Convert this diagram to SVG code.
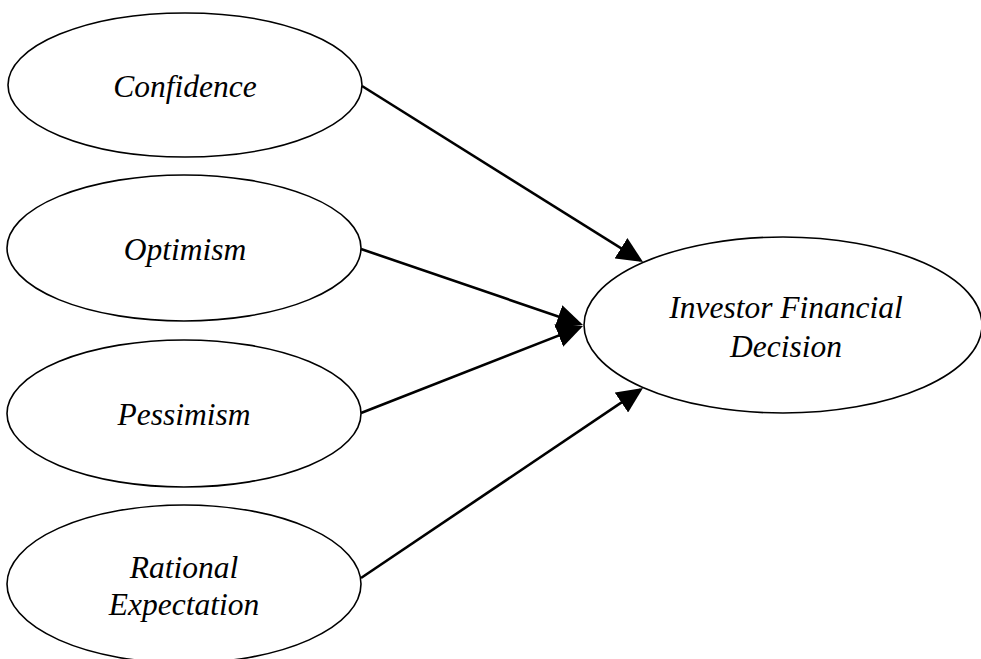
<svg xmlns="http://www.w3.org/2000/svg" width="981" height="659" viewBox="0 0 981 659">
<style>
.node ellipse{fill:#fff;stroke:#000;stroke-width:1.6}
.node text{font-family:"Liberation Serif","Times New Roman",serif;font-style:italic;font-size:31.5px;fill:#000;text-anchor:middle}
.conn line{stroke:#000;stroke-width:2.6;fill:none}
</style>
<defs>
<marker id="ah" markerUnits="userSpaceOnUse" viewBox="0 0 26 24" markerWidth="26" markerHeight="24" refX="23" refY="12" orient="auto">
<path d="M0,0 L26,12 L0,24 Z" fill="#000"/>
</marker>
</defs>
<rect width="981" height="659" fill="#fff"/>
<g id="n-confidence" class="node">
<ellipse cx="185" cy="85" rx="177" ry="72"/>
<text x="185" y="97">Confidence</text>
</g>
<g id="n-optimism" class="node">
<ellipse cx="184" cy="248" rx="177" ry="73"/>
<text x="185" y="260">Optimism</text>
</g>
<g id="n-pessimism" class="node">
<ellipse cx="184" cy="413.5" rx="177" ry="73.5"/>
<text x="184" y="425">Pessimism</text>
</g>
<g id="n-rational" class="node">
<ellipse cx="184" cy="584" rx="177" ry="79"/>
<text x="184" y="578">Rational</text>
<text x="184" y="615">Expectation</text>
</g>
<g id="n-decision" class="node">
<ellipse cx="783" cy="325" rx="199" ry="88"/>
<text x="786" y="318">Investor Financial</text>
<text x="786" y="357">Decision</text>
</g>
<g id="connectors" class="conn">
<line x1="362" y1="86" x2="640.5" y2="260.4" marker-end="url(#ah)"/>
<line x1="361" y1="249" x2="580.2" y2="324" marker-end="url(#ah)"/>
<line x1="361" y1="413" x2="580.2" y2="327.1" marker-end="url(#ah)"/>
<line x1="361" y1="578" x2="640.5" y2="389.7" marker-end="url(#ah)"/>
</g>
</svg>
